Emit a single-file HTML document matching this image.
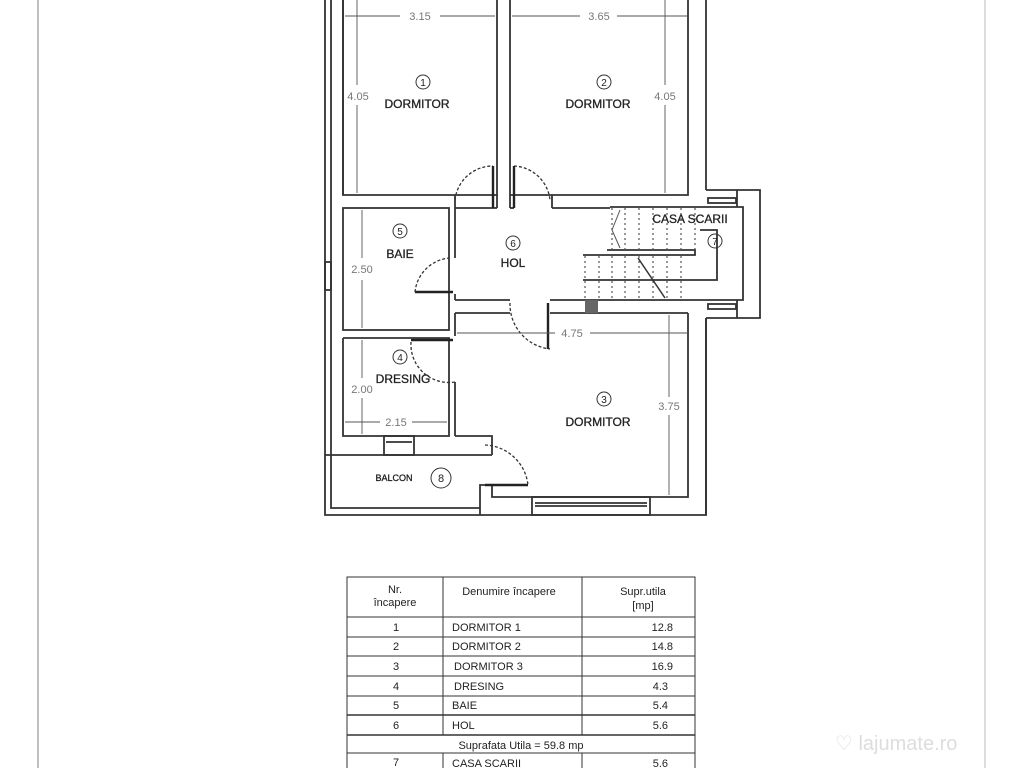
<!DOCTYPE html>
<html><head><meta charset="utf-8"><style>
html,body{margin:0;padding:0;background:#fff;}
svg{display:block;}
text{font-family:"Liberation Sans",Arial,sans-serif;}
</style></head><body>
<svg width="1024" height="768" viewBox="0 0 1024 768" xmlns="http://www.w3.org/2000/svg">
<rect width="1024" height="768" fill="#fff"/>
<line x1="38" y1="0" x2="38" y2="768" stroke="#aaa" stroke-width="1.5"/>
<line x1="985" y1="0" x2="985" y2="768" stroke="#bbb" stroke-width="1"/>
<g fill="none" stroke="#333" stroke-width="1.8">
<polyline points="325,0 325,515 706,515 706,318"/>
<line x1="331" y1="0" x2="331" y2="455"/>
<line x1="343" y1="0" x2="343" y2="195"/>
<line x1="706" y1="0" x2="706" y2="190"/>
<polyline points="343,0 343,195 497,195 497,0"/>
<line x1="510" y1="0" x2="510" y2="195"/>
<polyline points="510,195 688,195 688,0"/>
<line x1="455" y1="208" x2="493" y2="208"/>
<line x1="552" y1="208" x2="610" y2="208"/>
<line x1="497" y1="195" x2="497" y2="208"/>
<line x1="510" y1="195" x2="510" y2="208"/>
<line x1="493" y1="208" x2="497" y2="208"/>
<line x1="510" y1="208" x2="514" y2="208"/>
<line x1="455" y1="195" x2="455" y2="208"/>
<line x1="552" y1="195" x2="552" y2="208"/>
<rect x="343" y="208" width="106" height="122"/>
<line x1="455" y1="208" x2="455" y2="258"/>
<line x1="455" y1="294" x2="455" y2="300"/>
<line x1="455" y1="300" x2="510" y2="300"/>
<line x1="550" y1="300" x2="583" y2="300"/>
<line x1="455" y1="313" x2="510" y2="313"/>
<line x1="550" y1="313" x2="688" y2="313"/>
<polyline points="343,338 449,338 449,436 343,436 343,338"/>
<line x1="455" y1="313" x2="455" y2="336"/>
<line x1="455" y1="382" x2="455" y2="436"/>
<polyline points="455,436 492,436 492,455"/>
<polyline points="480,515 480,485 492,485 492,497 688,497 688,313"/>
<line x1="706" y1="318" x2="706" y2="515"/>
<line x1="325" y1="455" x2="492" y2="455"/>
<polyline points="331,455 331,508 480,508"/>
<rect x="532" y="497" width="118" height="18"/>
<line x1="535" y1="503" x2="647" y2="503"/>
<line x1="535" y1="506" x2="647" y2="506"/>
<rect x="384" y="436" width="30" height="19"/>
<line x1="386" y1="442" x2="412" y2="442"/>
<rect x="325" y="262" width="6" height="28"/>
<polyline points="706,190 760,190 760,318 706,318"/>
<line x1="737" y1="190" x2="737" y2="207"/>
<line x1="737" y1="300" x2="737" y2="318"/>
<rect x="708" y="198" width="28" height="5"/>
<rect x="708" y="304" width="28" height="5"/>
<polyline points="610,207 743,207 743,300 583,300"/>
<polyline points="583,255 695,255 695,250 607,250"/>
<polyline points="700,230 717,230 717,280 583,280"/>
</g>
<g stroke="#555" stroke-width="1.2" stroke-dasharray="2,3">
<line x1="612" y1="208" x2="612" y2="250"/><line x1="625" y1="208" x2="625" y2="250"/>
<line x1="639" y1="208" x2="639" y2="250"/><line x1="653" y1="208" x2="653" y2="250"/>
<line x1="667" y1="208" x2="667" y2="250"/><line x1="681" y1="208" x2="681" y2="250"/>
<line x1="695" y1="208" x2="695" y2="250"/>
<line x1="585" y1="256" x2="585" y2="300"/><line x1="599" y1="256" x2="599" y2="300"/>
<line x1="612" y1="256" x2="612" y2="300"/><line x1="625" y1="256" x2="625" y2="300"/>
<line x1="639" y1="256" x2="639" y2="300"/><line x1="653" y1="256" x2="653" y2="300"/>
<line x1="667" y1="256" x2="667" y2="300"/><line x1="681" y1="256" x2="681" y2="300"/>
</g>
<line x1="638" y1="258" x2="665" y2="298" stroke="#333" stroke-width="1.5"/>
<polyline points="620,210 612,230 620,248" fill="none" stroke="#555"/>
<rect x="585" y="300" width="13" height="13" fill="#666"/>
<g fill="none" stroke="#333" stroke-width="1.3" stroke-dasharray="3,2">
<path d="M455,200 A38,38 0 0 1 493,166"/>
<path d="M514,166 A38,38 0 0 1 550,200"/>
<path d="M415,292 A38,38 0 0 1 449,258"/>
<path d="M411,342 A38,38 0 0 0 455,382"/>
<path d="M510,303 A45,45 0 0 0 550,349"/>
<path d="M485,445 A45,45 0 0 1 528,485"/>
</g>
<g stroke="#222" stroke-width="2.4">
<line x1="493" y1="166" x2="493" y2="208"/>
<line x1="514" y1="166" x2="514" y2="208"/>
<line x1="415" y1="292" x2="453" y2="292"/>
<line x1="411" y1="340" x2="453" y2="340"/>
<line x1="548" y1="303" x2="548" y2="349"/>
<line x1="485" y1="485" x2="528" y2="485"/>
</g>
<g stroke="#555" stroke-width="0.9" fill="none">
<line x1="345" y1="16" x2="400" y2="16"/><line x1="440" y1="16" x2="495" y2="16"/>
<line x1="512" y1="16" x2="580" y2="16"/><line x1="617" y1="16" x2="687" y2="16"/>
<line x1="357" y1="0" x2="357" y2="85"/><line x1="357" y1="105" x2="357" y2="193"/>
<line x1="665" y1="0" x2="665" y2="85"/><line x1="665" y1="105" x2="665" y2="193"/>
<line x1="362" y1="210" x2="362" y2="258"/><line x1="362" y1="280" x2="362" y2="328"/>
<line x1="362" y1="340" x2="362" y2="378"/><line x1="362" y1="398" x2="362" y2="434"/>
<line x1="345" y1="422" x2="380" y2="422"/><line x1="412" y1="422" x2="447" y2="422"/>
<line x1="457" y1="333" x2="555" y2="333"/><line x1="590" y1="333" x2="688" y2="333"/>
<line x1="669" y1="315" x2="669" y2="397"/><line x1="669" y1="415" x2="669" y2="495"/>
</g>
<g font-size="11" fill="#777" text-anchor="middle">
<text x="420" y="20">3.15</text>
<text x="599" y="20">3.65</text>
<text x="358" y="100">4.05</text>
<text x="665" y="100">4.05</text>
<text x="362" y="273">2.50</text>
<text x="362" y="393">2.00</text>
<text x="396" y="426">2.15</text>
<text x="572" y="337">4.75</text>
<text x="669" y="410">3.75</text>
</g>
<g font-size="12" fill="#222" text-anchor="middle" stroke="#222" stroke-width="0.3">
<text x="417" y="108">DORMITOR</text>
<text x="598" y="108">DORMITOR</text>
<text x="400" y="258">BAIE</text>
<text x="513" y="267">HOL</text>
<text x="403" y="383">DRESING</text>
<text x="598" y="426">DORMITOR</text>
<text x="690" y="223">CASA SCARII</text>
<text x="394" y="481" font-size="9">BALCON</text>
</g>
<g fill="none" stroke="#333" stroke-width="1">
<circle cx="423" cy="82" r="7"/><circle cx="604" cy="82" r="7"/>
<circle cx="400" cy="231" r="7"/><circle cx="513" cy="243" r="7"/>
<circle cx="400" cy="357" r="7"/><circle cx="604" cy="399" r="7"/>
<circle cx="715" cy="241" r="7"/><circle cx="441" cy="478" r="10"/>
</g>
<g font-size="10" fill="#222" text-anchor="middle">
<text x="423" y="86">1</text><text x="604" y="86">2</text>
<text x="400" y="235">5</text><text x="513" y="247">6</text>
<text x="400" y="361">4</text><text x="604" y="403">3</text>
<text x="715" y="245">7</text><text x="441" y="482" font-size="11">8</text>
</g>
<g stroke="#333" stroke-width="1" fill="none">
<rect x="347" y="577" width="348" height="200"/>
<line x1="443" y1="577" x2="443" y2="735"/><line x1="582" y1="577" x2="582" y2="735"/>
<line x1="443" y1="753" x2="443" y2="768"/><line x1="582" y1="753" x2="582" y2="768"/>
<line x1="347" y1="617" x2="695" y2="617"/><line x1="347" y1="637" x2="695" y2="637"/>
<line x1="347" y1="656" x2="695" y2="656"/><line x1="347" y1="676" x2="695" y2="676"/>
<line x1="347" y1="696" x2="695" y2="696"/><line x1="347" y1="715" x2="695" y2="715" stroke-width="1.6"/>
<line x1="347" y1="735" x2="695" y2="735" stroke-width="1.6"/><line x1="347" y1="753" x2="695" y2="753"/>
</g>
<g font-size="11" fill="#222">
<g text-anchor="middle">
<text x="395" y="593">Nr.</text><text x="395" y="606">încapere</text>
<text x="509" y="595">Denumire încapere</text>
<text x="643" y="595">Supr.utila</text><text x="643" y="609">[mp]</text>
<text x="396" y="631">1</text><text x="396" y="650">2</text><text x="396" y="670">3</text>
<text x="396" y="690">4</text><text x="396" y="709">5</text><text x="396" y="729">6</text>
<text x="521" y="749">Suprafata Utila = 59.8 mp</text>
<text x="396" y="766">7</text>
</g>
<text x="452" y="631">DORMITOR 1</text><text x="452" y="650">DORMITOR 2</text>
<text x="454" y="670">DORMITOR 3</text><text x="454" y="690">DRESING</text>
<text x="452" y="709">BAIE</text><text x="452" y="729">HOL</text>
<text x="452" y="767">CASA SCARII</text>
<g text-anchor="end">
<text x="673" y="631">12.8</text><text x="673" y="650">14.8</text><text x="673" y="670">16.9</text>
<text x="668" y="690">4.3</text><text x="668" y="709">5.4</text><text x="668" y="729">5.6</text>
<text x="668" y="767">5.6</text>
</g>
</g>
<text x="835" y="750" font-size="20" fill="#ddd">♡ lajumate.ro</text>
</svg>
</body></html>
